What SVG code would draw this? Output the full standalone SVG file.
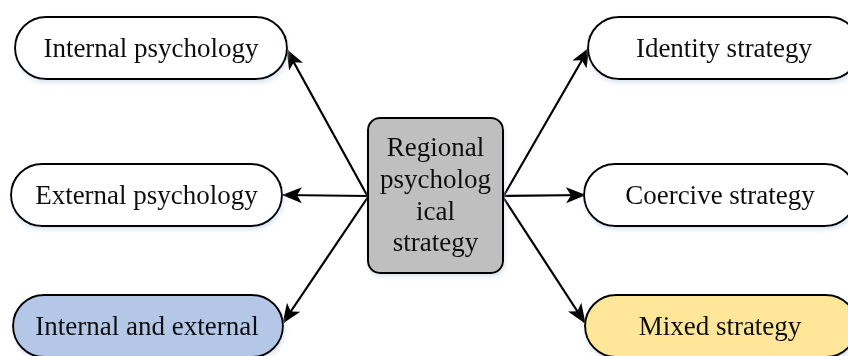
<svg xmlns="http://www.w3.org/2000/svg" width="848" height="356" viewBox="0 0 848 356">
<defs>
<style>
.box{stroke:#000;stroke-width:2}
.t{font-family:"Liberation Serif","Times New Roman",serif;font-size:27px;fill:#111;text-anchor:middle}
.c{stroke:#000;stroke-width:2.2;fill:none;marker-end:url(#ah)}
</style>
<marker id="ah" viewBox="0 0 20 16" refX="19" refY="8" markerWidth="20" markerHeight="16" markerUnits="userSpaceOnUse" orient="auto">
<path d="M0,0 L20,8 L0,16 L5,8 Z" fill="#000"/>
</marker>
<filter id="sh" x="-10%" y="-20%" width="120%" height="150%">
<feDropShadow dx="1" dy="3" stdDeviation="2" flood-color="#c8d4e8" flood-opacity="0.6"/>
</filter>
</defs>
<g id="connectors">
<line class="c" x1="368" y1="197" x2="287" y2="50"/>
<line class="c" x1="368" y1="196" x2="283" y2="195"/>
<line class="c" x1="368" y1="197" x2="283" y2="323"/>
<line class="c" x1="503" y1="197" x2="589" y2="48"/>
<line class="c" x1="503" y1="196" x2="585" y2="195"/>
<line class="c" x1="503" y1="197" x2="585" y2="323"/>
</g>
<g id="center" filter="url(#sh)">
<rect class="box" x="368" y="118" width="135" height="155" rx="12" fill="#bfbfbf"/>
<text class="t" x="435.5" y="156">Regional</text>
<text class="t" x="435.5" y="188">psycholog</text>
<text class="t" x="435.5" y="220">ical</text>
<text class="t" x="435.5" y="251">strategy</text>
</g>
<g id="internal-psychology" filter="url(#sh)">
<rect class="box" x="15" y="17" width="272" height="62" rx="31" fill="#fff"/>
<text class="t" x="151" y="57">Internal psychology</text>
</g>
<g id="external-psychology" filter="url(#sh)">
<rect class="box" x="11" y="164" width="271" height="62" rx="31" fill="#fff"/>
<text class="t" x="146.5" y="204">External psychology</text>
</g>
<g id="internal-and-external" filter="url(#sh)">
<rect class="box" x="13" y="295" width="270" height="62" rx="31" fill="#b4c7e7"/>
<text class="t" x="147" y="335">Internal and external</text>
</g>
<g id="identity-strategy" filter="url(#sh)">
<rect class="box" x="588" y="17" width="272" height="62" rx="31" fill="#fff"/>
<text class="t" x="724" y="57">Identity strategy</text>
</g>
<g id="coercive-strategy" filter="url(#sh)">
<rect class="box" x="584" y="164" width="272" height="62" rx="31" fill="#fff"/>
<text class="t" x="720" y="204">Coercive strategy</text>
</g>
<g id="mixed-strategy" filter="url(#sh)">
<rect class="box" x="585" y="295" width="272" height="62" rx="31" fill="#ffe699"/>
<text class="t" x="720" y="335">Mixed strategy</text>
</g>
</svg>
